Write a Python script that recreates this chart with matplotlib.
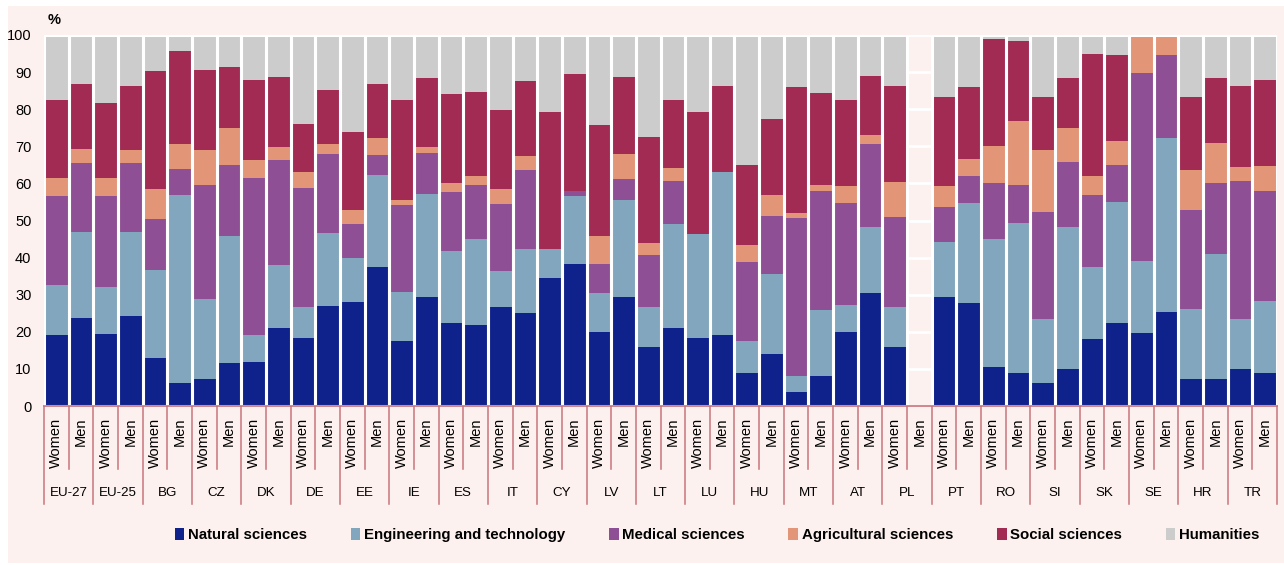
import matplotlib
matplotlib.use("Agg")
import matplotlib.pyplot as plt
import numpy as np
from matplotlib.patches import Rectangle

countries = ["EU-27", "EU-25", "BG", "CZ", "DK", "DE", "EE", "IE", "ES", "IT", "CY", "LV", "LT",
             "LU", "HU", "MT", "AT", "PL", "PT", "RO", "SI", "SK", "SE", "HR", "TR"]
sexes = ["Women", "Men"]
fields = ["Natural sciences", "Engineering and technology", "Medical sciences",
          "Agricultural sciences", "Social sciences", "Humanities"]

# % share per field, bars in order: country1 Women, country1 Men, country2 Women, ...
natural = [19.1, 23.7, 19.4, 24.3, 12.9, 6.2, 7.3, 11.6, 11.9, 21.0, 18.3, 27.0, 28.0, 37.5,
           17.5, 29.4, 22.4, 21.8, 26.7, 25.1, 34.5, 38.3, 19.9, 29.4, 15.9, 21.0, 18.3, 19.1,
           8.9, 14.0, 3.8, 8.1, 19.9, 30.5, 15.9, np.nan, 29.4, 27.8, 10.5, 8.9, 6.2, 10.0,
           18.1, 22.4, 19.7, 25.3, 7.3, 7.3, 10.0, 8.9]
engineering = [13.5, 23.2, 12.7, 22.6, 23.8, 50.7, 21.5, 34.2, 7.2, 17.0, 8.4, 19.6, 11.9, 24.8,
               13.2, 27.7, 19.4, 23.2, 9.7, 17.2, 7.8, 18.3, 10.6, 26.1, 10.8, 28.1, 28.1, 44.0,
               8.6, 21.6, 4.3, 17.8, 7.3, 17.7, 10.8, np.nan, 14.8, 26.9, 34.5, 40.4, 17.3, 38.2,
               19.4, 32.6, 19.4, 46.9, 18.8, 33.7, 13.5, 19.4]
medical = [24.0, 18.6, 24.5, 18.6, 13.7, 7.0, 30.8, 19.2, 42.4, 28.3, 32.1, 21.3, 9.2, 5.4,
           23.5, 11.1, 15.9, 14.6, 18.0, 21.3, 0.0, 1.4, 7.8, 5.7, 14.0, 11.5, 0.0, 0.0,
           21.3, 15.6, 42.6, 32.1, 27.5, 22.4, 24.2, np.nan, 9.4, 7.3, 15.1, 10.3, 28.8, 17.6,
           19.4, 10.0, 50.7, 22.4, 26.7, 19.1, 37.1, 29.7]
agricultural = [4.9, 3.8, 4.9, 3.5, 8.1, 6.7, 9.4, 9.9, 4.8, 3.5, 4.3, 2.7, 3.7, 4.5,
                1.3, 1.6, 2.4, 2.4, 4.1, 3.8, 0.0, 0.0, 7.5, 6.7, 3.2, 3.6, 0.0, 0.0,
                4.6, 5.7, 1.3, 1.6, 4.6, 2.4, 9.5, np.nan, 5.7, 4.6, 10.0, 17.2, 16.7, 9.1,
                5.1, 6.4, 10.2, 5.4, 10.8, 10.8, 3.8, 6.7]
social = [21.0, 17.5, 20.2, 17.3, 31.8, 25.1, 21.6, 16.5, 21.6, 18.9, 12.9, 14.6, 21.1, 14.6,
          27.0, 18.6, 24.0, 22.6, 21.3, 20.2, 36.9, 31.5, 29.9, 20.8, 28.6, 18.3, 32.8, 23.2,
          21.6, 20.5, 34.0, 24.8, 23.2, 15.9, 25.9, np.nan, 24.0, 19.4, 28.8, 21.6, 14.3, 13.5,
          32.9, 23.2, 0.0, 0.0, 19.7, 17.5, 21.9, 23.2]
humanities = [17.5, 13.2, 18.3, 13.7, 9.7, 4.3, 9.4, 8.6, 12.1, 11.3, 24.0, 14.8, 26.1, 13.2,
              17.5, 11.6, 15.9, 15.4, 20.2, 12.4, 20.8, 10.5, 24.3, 11.3, 27.5, 17.5, 20.8, 13.7,
              35.0, 22.6, 14.0, 15.6, 17.5, 11.1, 13.7, np.nan, 16.7, 14.0, 1.1, 1.6, 16.7, 11.6,
              5.1, 5.4, 0.0, 0.0, 16.7, 11.6, 13.7, 12.1]

colors = ["#0f218b", "#82a6bd", "#8e4f94", "#e29577", "#a22b53", "#cccccc"]
bg = "#fcf1ee"
sep = "#c8747c"
font = ["Liberation Sans", "DejaVu Sans"]

series = [natural, engineering, medical, agricultural, social, humanities]
data = np.array(series, dtype=float)
n = data.shape[1]
x = np.arange(n)

fig = plt.figure(figsize=(12.84, 5.65), dpi=100, facecolor="white")
fig.patches.append(Rectangle((8 / 1284, 2 / 565), 1 - 8 / 1284, 557 / 565,
                             transform=fig.transFigure, facecolor=bg, edgecolor="none", zorder=-5))
ax = fig.add_axes([44 / 1284, 1 - 406 / 565, 1233 / 1284, 371 / 565])
ax.set_facecolor(bg)

bottom = np.zeros(n)
handles = []
for vals, col, name in zip(data, colors, fields):
    v = np.nan_to_num(vals)
    h = ax.bar(x, v, bottom=bottom, width=1.0, color=col, edgecolor="none", label=name, zorder=2)
    handles.append(h)
    bottom += v

# white outline around each bar
filled = ~np.isnan(data[0])
ax.bar(x[filled], bottom[filled], width=1.0, facecolor="none", edgecolor="white",
       linewidth=2.2, zorder=3)

ax.set_xlim(-0.5, n - 0.5)
ax.set_ylim(0, 100)
ax.set_yticks(np.arange(0, 101, 10))
ax.yaxis.grid(True, color="white", linewidth=2)
ax.set_axisbelow(True)
ax.tick_params(axis="y", length=0, pad=9, labelsize=10.5)
for lab in ax.get_yticklabels():
    lab.set_family(font)
ax.set_xticks([])
for s in ["top", "right", "left"]:
    ax.spines[s].set_visible(False)
ax.spines["bottom"].set_color(sep)
ax.spines["bottom"].set_linewidth(1.2)
ax.spines["bottom"].set_zorder(4)

fig.text(48 / 1284, 1 - 20 / 565, "%", fontsize=10.5, fontweight="bold", va="center",
         family=font)

# category axis: Women/Men labels, separators, country labels
tr = ax.get_xaxis_transform()
hpx = 371.0
for i in range(n):
    ax.text(x[i], -12 / hpx, sexes[i % 2], rotation=90, ha="center", va="top", transform=tr,
            fontsize=10.5, family=font, clip_on=False)
for k, c in enumerate(countries):
    ax.plot([2 * k + 0.5] * 2, [0, -63 / hpx], color=sep, lw=1.1, transform=tr, clip_on=False)
    ax.text(2 * k + 0.5, -87 / hpx, c, ha="center", va="center", transform=tr, fontsize=9.6,
            family=font, clip_on=False)
for b in np.arange(-0.5, n, 2):
    ax.plot([b, b], [0, -98 / hpx], color=sep, lw=1.1, transform=tr, clip_on=False)

leg = fig.legend(handles=handles, labels=fields, loc="center", ncol=6,
                 bbox_to_anchor=(717 / 1284, 1 - 535 / 565), frameon=False,
                 handlelength=0.65, handleheight=0.9, handletextpad=0.25, columnspacing=2.9,
                 prop={"family": font, "weight": "bold", "size": 10.8})

fig.savefig("out.png", dpi=100, facecolor="white")
